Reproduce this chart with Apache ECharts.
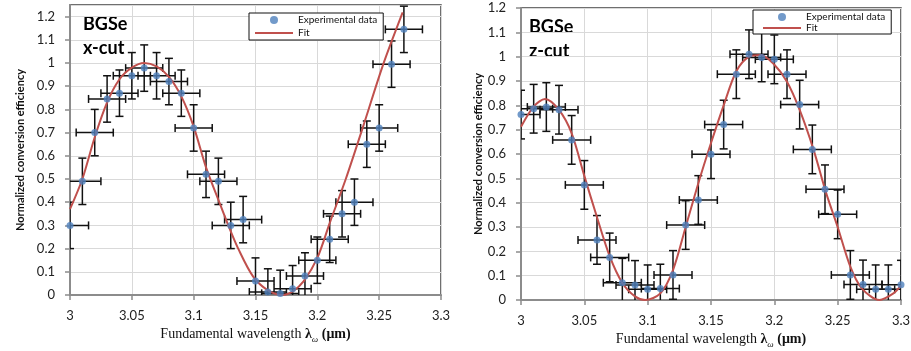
<!DOCTYPE html>
<html>
<head>
<meta charset="utf-8">
<script src="https://cdn.jsdelivr.net/npm/echarts@6/dist/echarts.min.js"></script>
<style>html,body{margin:0;padding:0;background:#fff}#c{width:911px;height:351px}</style>
</head>
<body>
<div id="c"></div>
<script>
// ---- data ----
const xTickLabels = ['3', '3.05', '3.1', '3.15', '3.2', '3.25', '3.3'];
const yTickLabels = ['0', '0.1', '0.2', '0.3', '0.4', '0.5', '0.6', '0.7', '0.8', '0.9', '1', '1.1', '1.2'];

const xCutX = [3.00, 3.01, 3.02, 3.03, 3.04, 3.05, 3.06, 3.07, 3.08, 3.09, 3.10, 3.11, 3.12, 3.13, 3.14,
  3.15, 3.16, 3.17, 3.18, 3.19, 3.20, 3.21, 3.22, 3.23, 3.24, 3.25, 3.26, 3.27];
const xCutY = [0.30, 0.49, 0.70, 0.845, 0.87, 0.945, 0.978, 0.945, 0.92, 0.87, 0.72, 0.52, 0.49, 0.30, 0.325,
  0.06, 0.013, 0.007, 0.027, 0.082, 0.15, 0.24, 0.35, 0.40, 0.65, 0.72, 0.995, 1.145];
const xCutFitX = [3.000, 3.010, 3.020, 3.030, 3.040, 3.050, 3.060, 3.070, 3.080, 3.090, 3.100, 3.110, 3.120,
  3.128, 3.136, 3.148, 3.160, 3.172, 3.180, 3.189, 3.200, 3.210, 3.223, 3.237, 3.253, 3.269];
const xCutFitY = [0.37, 0.50, 0.68, 0.83, 0.93, 0.98, 1.00, 0.985, 0.94, 0.856, 0.726, 0.55, 0.41,
  0.30, 0.20, 0.08, 0.02, 0.00, 0.015, 0.06, 0.16, 0.31, 0.50, 0.726, 0.99, 1.218];

const zCutX = [3.00, 3.01, 3.02, 3.03, 3.04, 3.05, 3.06, 3.07, 3.08, 3.09, 3.10, 3.11, 3.12, 3.13, 3.14,
  3.15, 3.16, 3.17, 3.18, 3.19, 3.20, 3.21, 3.22, 3.23, 3.24, 3.25, 3.26, 3.27, 3.28, 3.29, 3.30];
const zCutY = [0.762, 0.786, 0.793, 0.782, 0.658, 0.473, 0.247, 0.175, 0.071, 0.062, 0.044, 0.047, 0.103, 0.308, 0.411,
  0.599, 0.721, 0.928, 1.01, 0.997, 0.989, 0.928, 0.803, 0.619, 0.455, 0.352, 0.103, 0.064, 0.044, 0.044, 0.063];
const zCutFitX = [3.000, 3.010, 3.019, 3.030, 3.040, 3.050, 3.060, 3.070, 3.080, 3.090, 3.098, 3.110, 3.120,
  3.130, 3.140, 3.150, 3.160, 3.170, 3.180, 3.189, 3.199, 3.210, 3.220, 3.231, 3.241, 3.250, 3.260, 3.269,
  3.283, 3.294, 3.300];
const zCutFitY = [0.712, 0.795, 0.826, 0.781, 0.685, 0.51, 0.34, 0.18, 0.07, 0.015, 0.0, 0.027, 0.123,
  0.30, 0.48, 0.645, 0.80, 0.94, 1.0, 1.007, 0.973, 0.897, 0.781, 0.617, 0.438, 0.30, 0.137, 0.048,
  0.0, 0.027, 0.06];

const xErr = 0.015;   // horizontal error half-width (µm)
const yErr = 0.1;     // vertical error half-height

// ---- helpers ----
const zip = (a, b) => a.map((v, i) => [v, b[i]]);
const errData = (a, b) => a.map((v, i) => [v, b[i], xErr, yErr]);

const BLUE = '#4F81BD', RED = '#C0504D';
const TICK_FONT = 'Lato, "Open Sans", sans-serif';

function renderErr(params, api) {
  const x = api.value(0), y = api.value(1), dx = api.value(2), dy = api.value(3);
  const c = api.coord([x, y]);
  const l = api.coord([x - dx, y]), r = api.coord([x + dx, y]);
  const t = api.coord([x, y + dy]), b = api.coord([x, y - dy]);
  const cap = 4;
  const st = { stroke: '#111', lineWidth: 1.5 };
  const line = (x1, y1, x2, y2) => ({ type: 'line', shape: { x1, y1, x2, y2 }, style: st });
  return {
    type: 'group',
    children: [
      line(l[0], c[1], r[0], c[1]),
      line(l[0], c[1] - cap, l[0], c[1] + cap),
      line(r[0], c[1] - cap, r[0], c[1] + cap),
      line(c[0], t[1], c[0], b[1]),
      line(c[0] - cap, t[1], c[0] + cap, t[1]),
      line(c[0] - cap, b[1], c[0] + cap, b[1])
    ]
  };
}

function xAxisCfg(gi) {
  return {
    type: 'value', gridIndex: gi, min: 3, max: 3.3, interval: 0.05,
    name: '{a|Fundamental wavelength }{b|λ}{c|ω}{d| (μm)}',
    nameLocation: 'middle', nameGap: 28,
    nameTextStyle: {
      rich: {
        a: { fontFamily: '"Liberation Serif", serif', fontSize: 14, color: '#111', lineHeight: 20 },
        b: { fontFamily: '"Liberation Serif", serif', fontSize: 14, fontWeight: 'bold', color: '#111', lineHeight: 20 },
        c: { fontFamily: '"Liberation Serif", serif', fontSize: 9, fontStyle: 'italic', color: '#111', lineHeight: 12, verticalAlign: 'bottom' },
        d: { fontFamily: '"Liberation Serif", serif', fontSize: 14, fontWeight: 'bold', color: '#111', lineHeight: 20 }
      }
    },
    axisLine: { show: true, onZero: false, lineStyle: { color: '#8c8c8c', width: 2 } },
    axisTick: { show: true, length: 5, lineStyle: { color: '#8c8c8c', width: 1.5 } },
    axisLabel: {
      margin: 14, fontFamily: TICK_FONT, fontSize: 13, color: '#222',
      formatter: v => xTickLabels[Math.round((v - 3) / 0.05)] ?? ''
    },
    splitLine: { show: true, lineStyle: { color: '#d9d9d9', width: 1 } }
  };
}

function yAxisCfg(gi, max, gap) {
  return {
    type: 'value', gridIndex: gi, min: 0, max: max, interval: 0.1,
    name: 'Normalized conversion efficiency',
    nameLocation: 'middle', nameGap: gap,
    nameTextStyle: { fontFamily: 'Lato, sans-serif', fontWeight: 'bold', fontSize: 11, color: '#111' },
    axisLine: { show: true, lineStyle: { color: '#8c8c8c', width: 2 } },
    axisTick: { show: true, length: 5, lineStyle: { color: '#8c8c8c', width: 1.5 } },
    axisLabel: {
      margin: 15, fontFamily: TICK_FONT, fontSize: 13, color: '#222', showMaxLabel: max === 1.2,
      formatter: v => yTickLabels[Math.round(v / 0.1)] ?? ''
    },
    splitLine: { show: true, lineStyle: { color: '#d9d9d9', width: 1 } }
  };
}

function legendCfg(left, top, pad, gap) {
  return {
    left: left, top: top, orient: 'vertical',
    data: [
      { name: 'Experimental data' },
      { name: 'Fit', itemStyle: { opacity: 0 } }
    ],
    itemWidth: 38, itemHeight: 8, itemGap: gap,
    padding: pad,
    backgroundColor: '#fff', borderColor: '#111', borderWidth: 1,
    textStyle: { fontFamily: 'Lato, sans-serif', fontSize: 10, color: '#111' },
    selectedMode: false
  };
}

const chart = echarts.init(document.getElementById('c'), null, { renderer: 'canvas' });
chart.setOption({
  animation: false,
  backgroundColor: '#fff',
  grid: [
    { left: 70, top: 5, width: 371, height: 290, containLabel: false, outerBoundsMode: 'none',
      show: true, borderColor: '#404040', borderWidth: 1.5, backgroundColor: 'transparent' },
    { left: 521, top: 8, width: 380, height: 292, containLabel: false, outerBoundsMode: 'none',
      show: true, borderColor: '#404040', borderWidth: 1.5, backgroundColor: 'transparent' }
  ],
  xAxis: [xAxisCfg(0), xAxisCfg(1)],
  yAxis: [yAxisCfg(0, 1.25, 44), yAxisCfg(1, 1.2, 33)],
  legend: [legendCfg(249, 13, [2, 6, 2, 5], 3), legendCfg(753, 10, [2, 6, 1, 9], 1)],
  graphic: [
    { type: 'text', left: 83, top: 15, style: { text: 'BGSe', font: 'bold 18px Lato, sans-serif', fill: '#000' } },
    { type: 'text', left: 83, top: 39, style: { text: 'x-cut', font: 'bold 18px Lato, sans-serif', fill: '#000' } },
    { type: 'text', left: 529, top: 18, style: { text: 'BGSe', font: 'bold 18px Lato, sans-serif', fill: '#000' } },
    { type: 'text', left: 529, top: 42, style: { text: 'z-cut', font: 'bold 18px Lato, sans-serif', fill: '#000' } }
  ],
  series: [
    { type: 'custom', name: 'errX', xAxisIndex: 0, yAxisIndex: 0, renderItem: renderErr, data: errData(xCutX, xCutY), clip: true, z: 2, silent: true },
    { type: 'line', name: 'Fit', xAxisIndex: 0, yAxisIndex: 0, data: zip(xCutFitX, xCutFitY), smooth: 0.3, symbol: 'none',
      lineStyle: { color: RED, width: 2 }, itemStyle: { color: RED }, z: 3 },
    { type: 'scatter', name: 'Experimental data', xAxisIndex: 0, yAxisIndex: 0, data: zip(xCutX, xCutY), symbol: 'circle', symbolSize: 7,
      itemStyle: { color: BLUE }, z: 4 },
    { type: 'custom', name: 'errZ', xAxisIndex: 1, yAxisIndex: 1, renderItem: renderErr, data: errData(zCutX, zCutY), clip: true, z: 2, silent: true },
    { type: 'line', name: 'Fit', xAxisIndex: 1, yAxisIndex: 1, data: zip(zCutFitX, zCutFitY), smooth: 0.3, symbol: 'none',
      lineStyle: { color: RED, width: 2 }, itemStyle: { color: RED }, z: 3 },
    { type: 'scatter', name: 'Experimental data', xAxisIndex: 1, yAxisIndex: 1, data: zip(zCutX, zCutY), symbol: 'circle', symbolSize: 7,
      itemStyle: { color: BLUE }, z: 4 }
  ]
});
</script>
</body>
</html>
